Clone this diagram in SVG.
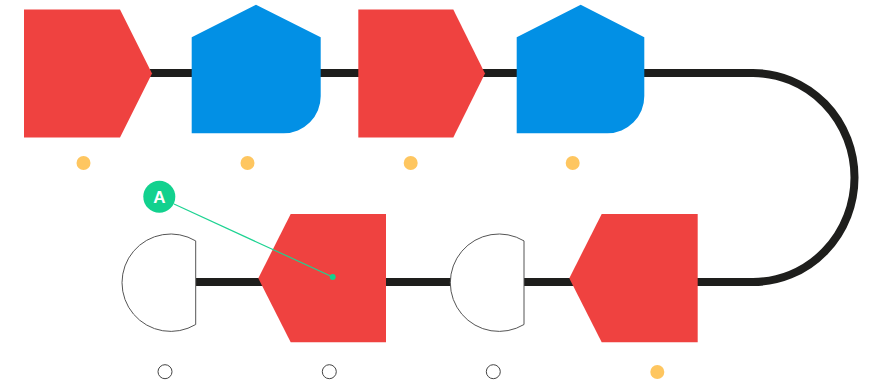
<svg xmlns="http://www.w3.org/2000/svg" width="869" height="381" viewBox="0 0 869 381">
<style>
.red{fill:#EF4240}
.blue{fill:#0290E5}
.gate{fill:#fff;stroke:#555;stroke-width:1}
.ydot{fill:#FEC660}
.odot{fill:#fff;stroke:#444;stroke-width:1}
.wire{fill:none;stroke:#1E1E1C;stroke-width:8}
.lead{stroke:#1ED392;stroke-width:1.2;fill:none}
.lbl{font-family:"Liberation Sans",Arial,sans-serif;font-size:17px;font-weight:bold;fill:#fff}
</style>
<rect width="869" height="381" fill="#fff"/>
<g id="connectors">
<path class="wire" d="M150 73 H753 A101.5 104.5 0 0 1 753 282 H196"/>
</g>
<g id="n1"><polygon class="red" points="24,9.5 120,9.5 152,73.5 120,137.5 24,137.5"/><circle class="ydot" cx="83.5" cy="163" r="7"/></g>
<g id="n2"><path class="blue" d="M191.7 37.3 L256 4.7 L320.7 37.3 V96 A37 37 0 0 1 283.7 133.3 H191.7 Z"/><circle class="ydot" cx="247.5" cy="163" r="7"/></g>
<g id="n3"><polygon class="red" points="358.3,9.5 453.3,9.5 485,73.5 453.3,137.5 358.3,137.5"/><circle class="ydot" cx="410.7" cy="163" r="7"/></g>
<g id="n4"><path class="blue" d="M516.7 37.3 L580.7 4.7 L644.3 37.3 V96 A37 37 0 0 1 607.3 133.3 H516.7 Z"/><circle class="ydot" cx="572.7" cy="163" r="7"/></g>
<g id="n5"><path class="gate" d="M195.7 240.9 A48.7 48.7 0 1 0 195.7 324.5 Z"/><circle class="odot" cx="165" cy="371.7" r="7"/></g>
<g id="n6"><polygon class="red" points="290.7,214 386,214 386,342.3 290.7,342.3 258.3,278.2"/><circle class="odot" cx="329.3" cy="371.7" r="7"/></g>
<g id="n7"><path class="gate" d="M524 240.9 A48.7 48.7 0 1 0 524 324.5 Z"/><circle class="odot" cx="493.3" cy="371.7" r="7"/></g>
<g id="n8"><polygon class="red" points="601.7,214 697.7,214 697.7,342.3 601.7,342.3 569.3,278.2"/><circle class="ydot" cx="657.3" cy="372" r="7"/></g>
<g id="labelA">
<line class="lead" x1="174" y1="204" x2="332.7" y2="277"/>
<circle cx="332.7" cy="277" r="3" fill="#12D18E"/>
<circle cx="159.3" cy="196.7" r="16" fill="#12D18E"/>
<text class="lbl" x="159.3" y="202.7" text-anchor="middle">A</text>
</g>
</svg>
